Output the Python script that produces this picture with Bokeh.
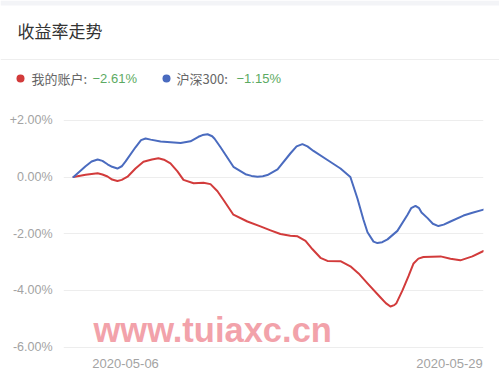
from bokeh.plotting import figure
from bokeh.models import Range1d, FixedTicker, Label
from bokeh.layouts import column
from bokeh.core.properties import value
from bokeh.embed import file_html
from bokeh.resources import INLINE

# ---- data (x = trading-day position from start, y = return %) ----
acct_x = [0, 0.50, 0.75, 1.00, 1.20, 1.41, 1.60, 1.82, 2.00, 2.24, 2.57, 2.90, 3.25, 3.52, 3.75, 4.02,
          4.31, 4.56, 4.98, 5.39, 5.68, 5.97, 6.22, 6.63, 7.21, 7.75, 8.17, 8.58, 8.99, 9.29, 9.62,
          9.91, 10.24, 10.53, 11.07, 11.48, 11.82, 12.19, 12.73, 12.95, 13.14, 13.30, 13.39, 13.64,
          13.89, 14.10, 14.30, 14.51, 15.22, 15.63, 16.04, 16.54, 17.0]
acct_y = [0, 0.08, 0.11, 0.13, 0.09, 0.02, -0.09, -0.14, -0.10, 0.01, 0.30, 0.54, 0.62, 0.66, 0.61, 0.48,
          0.20, -0.10, -0.22, -0.20, -0.25, -0.50, -0.81, -1.33, -1.57, -1.74, -1.88, -2.01, -2.07, -2.09, -2.25,
          -2.55, -2.85, -2.96, -2.97, -3.15, -3.40, -3.75, -4.25, -4.45, -4.57, -4.52, -4.45, -4.00,
          -3.50, -3.05, -2.88, -2.82, -2.80, -2.88, -2.94, -2.80, -2.61]

idx_x = [0, 0.50, 0.75, 1.00, 1.20, 1.41, 1.60, 1.82, 2.00, 2.16, 2.57, 2.80, 2.99, 3.20, 3.61, 4.44,
         4.85, 5.18, 5.35, 5.56, 5.75, 5.85, 6.09, 6.63, 7.13, 7.38, 7.63, 7.85, 8.04, 8.46, 8.99,
         9.25, 9.49, 9.70, 9.95, 10.53, 11.07, 11.48, 11.77, 12.02, 12.19, 12.44, 12.60, 12.80,
         13.02, 13.43, 13.85, 14.00, 14.18, 14.33, 14.43, 14.68, 14.90, 15.13, 15.35, 15.63,
         16.17, 16.54, 17.0]
idx_y = [0, 0.38, 0.55, 0.62, 0.57, 0.45, 0.36, 0.30, 0.38, 0.55, 1.05, 1.30, 1.36, 1.32, 1.25, 1.20,
         1.26, 1.42, 1.48, 1.51, 1.44, 1.35, 1.06, 0.36, 0.10, 0.04, 0.01, 0.03, 0.07, 0.27, 0.83,
         1.08, 1.16, 1.08, 0.92, 0.60, 0.30, 0.00, -0.75, -1.50, -1.95, -2.28, -2.33, -2.30,
         -2.20, -1.90, -1.33, -1.10, -1.02, -1.10, -1.25, -1.45, -1.65, -1.73, -1.68, -1.57,
         -1.36, -1.26, -1.15]

y_ticks = [-6, -4, -2, 0, 2]
y_tick_labels = ["-6.00%", "-4.00%", "-2.00%", "0.00%", "+2.00%"]
x_ticks = [2.16, 15.59]
x_tick_labels = ["2020-05-06", "2020-05-29"]

title_text = "收益率走势"
legend_names = ["我的账户: ", "沪深300: "]
legend_values = ["\u22122.61%", "\u22121.15%"]
watermark = "www.tuiaxc.cn"

RED = "#d23b3b"
BLUE = "#4a6bbf"
GREEN = "#5caa62"
CJK = "Noto Sans CJK SC"
W = 499

# ---------------- header (title + legend) ----------------
h = figure(width=W, height=100, output_backend="svg", toolbar_location=None,
           x_axis_type=None, y_axis_type=None,
           x_range=Range1d(0, W), y_range=Range1d(100, 0),
           min_border=0, min_border_left=0, min_border_right=0, min_border_top=0, min_border_bottom=0)
h.frame_align = False
h.grid.visible = False
h.outline_line_color = None
h.border_fill_color = "white"
h.background_fill_color = "white"

h.quad(left=[0], right=[W], top=[0], bottom=[5], fill_color="#f3f4f7", line_color=None)
h.segment(x0=[0], x1=[W], y0=[59], y1=[59], line_color="#eeeeee", line_width=1)
h.text(x=[17], y=[30], text=[title_text], text_font=value(CJK), text_font_size="17px",
       text_color="#333333", text_baseline="middle", text_align="left")

h.scatter(x=[20, 166], y=[78, 78], size=8, fill_color=[RED, BLUE], line_color=None)
h.text(x=[31, 176], y=[78, 78], text=legend_names, text_font=value(CJK), text_font_size="13px",
       text_color="#666666", text_baseline="middle", text_align="left")
h.text(x=[92, 236], y=[78, 78], text=legend_values, text_font=value("Liberation Sans"),
       text_font_size="13px", text_color=GREEN, text_baseline="middle", text_align="left")

# ---------------- main chart ----------------
p = figure(width=W, height=283, output_backend="svg", toolbar_location=None,
           x_range=Range1d(-0.415, 17.0), y_range=Range1d(-6.05, 2.70),
           min_border_left=63, min_border_right=16, min_border_top=0, min_border_bottom=35)
p.frame_align = False
p.outline_line_color = None
p.background_fill_color = "white"
p.border_fill_color = "white"

p.line(acct_x, acct_y, line_color=RED, line_width=2, line_join="round", line_cap="round")
p.line(idx_x, idx_y, line_color=BLUE, line_width=2, line_join="round", line_cap="round")

p.yaxis.ticker = FixedTicker(ticks=y_ticks)
p.yaxis.major_label_overrides = {t: l for t, l in zip(y_ticks, y_tick_labels)}
p.yaxis.axis_line_color = None
p.yaxis.major_tick_line_color = None
p.yaxis.minor_tick_line_color = None
p.yaxis.major_label_standoff = 5
p.yaxis.major_label_text_color = "#a3a3a3"
p.yaxis.major_label_text_font = "Liberation Sans"
p.yaxis.major_label_text_font_size = "12.5px"

p.xaxis.ticker = FixedTicker(ticks=x_ticks)
p.xaxis.major_label_overrides = {t: l for t, l in zip(x_ticks, x_tick_labels)}
p.xaxis.axis_line_color = None
p.xaxis.major_tick_line_color = None
p.xaxis.minor_tick_line_color = None
p.xaxis.major_label_standoff = 4
p.xaxis.major_label_text_color = "#a3a3a3"
p.xaxis.major_label_text_font = "Liberation Sans"
p.xaxis.major_label_text_font_size = "13px"

p.xgrid.visible = False
p.ygrid.grid_line_color = "#ededed"
p.ygrid.grid_line_width = 1

p.add_layout(Label(x=0.83, y=-5.40, text=watermark, text_font="Liberation Sans", text_font_style="bold",
                   text_font_size="34.5px", text_color="#f2a2aa", text_baseline="alphabetic"))

layout = column(h, p, spacing=0)
open("out.html", "w").write(file_html(layout, INLINE))
